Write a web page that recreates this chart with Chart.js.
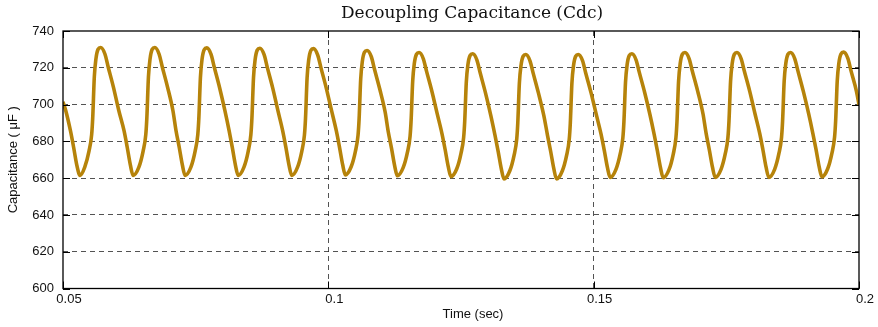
<!DOCTYPE html>
<html>
<head>
<meta charset="utf-8">
<title>Decoupling Capacitance (Cdc)</title>
<script src="https://cdn.jsdelivr.net/npm/chart.js@4.4.1/dist/chart.umd.min.js"></script>
<style>
  html, body { margin: 0; padding: 0; background: #fff; }
  #wrap { width: 878px; height: 327px; position: relative; }
</style>
</head>
<body>
<div id="wrap"><canvas id="cdc-chart"></canvas></div>
<script>
// Cdc trace (time in s, capacitance in uF)
const timeSec = [
  0.0500, 0.0505, 0.0514, 0.0520, 0.0526, 0.0532,
  0.0541, 0.0549, 0.0554, 0.0556, 0.0559, 0.0562, 0.0566, 0.0571, 0.0579, 0.0585, 0.0595, 0.0605, 0.0615, 0.0621, 0.0627, 0.0632,
  0.0643, 0.0651, 0.0656, 0.0658, 0.0661, 0.0664, 0.0668, 0.0673, 0.0681, 0.0687, 0.0697, 0.0707, 0.0713, 0.0719, 0.0725, 0.0730,
  0.0741, 0.0749, 0.0754, 0.0756, 0.0759, 0.0762, 0.0766, 0.0771, 0.0779, 0.0785, 0.0795, 0.0805, 0.0813, 0.0819, 0.0825, 0.0830,
  0.0841, 0.0849, 0.0854, 0.0856, 0.0859, 0.0862, 0.0866, 0.0871, 0.0879, 0.0885, 0.0895, 0.0905, 0.0914, 0.0920, 0.0926, 0.0931,
  0.0942, 0.0950, 0.0955, 0.0957, 0.0960, 0.0963, 0.0967, 0.0972, 0.0980, 0.0986, 0.0996, 0.1006, 0.1015, 0.1021, 0.1027, 0.1032,
  0.1043, 0.1051, 0.1056, 0.1058, 0.1061, 0.1064, 0.1068, 0.1073, 0.1081, 0.1087, 0.1097, 0.1107, 0.1113, 0.1119, 0.1125, 0.1130,
  0.1141, 0.1149, 0.1154, 0.1156, 0.1159, 0.1162, 0.1166, 0.1171, 0.1179, 0.1185, 0.1195, 0.1205, 0.1214, 0.1220, 0.1226, 0.1231,
  0.1242, 0.1250, 0.1255, 0.1257, 0.1260, 0.1263, 0.1267, 0.1272, 0.1280, 0.1286, 0.1296, 0.1306, 0.1314, 0.1320, 0.1326, 0.1331,
  0.1342, 0.1350, 0.1355, 0.1357, 0.1360, 0.1363, 0.1367, 0.1372, 0.1380, 0.1386, 0.1396, 0.1406, 0.1413, 0.1419, 0.1425, 0.1430,
  0.1441, 0.1449, 0.1454, 0.1456, 0.1459, 0.1462, 0.1466, 0.1471, 0.1479, 0.1485, 0.1495, 0.1505, 0.1514, 0.1520, 0.1526, 0.1531,
  0.1542, 0.1550, 0.1555, 0.1557, 0.1560, 0.1563, 0.1567, 0.1572, 0.1580, 0.1586, 0.1596, 0.1606, 0.1614, 0.1620, 0.1626, 0.1631,
  0.1642, 0.1650, 0.1655, 0.1657, 0.1660, 0.1663, 0.1667, 0.1672, 0.1680, 0.1686, 0.1696, 0.1706, 0.1712, 0.1718, 0.1724, 0.1729,
  0.1740, 0.1748, 0.1753, 0.1755, 0.1758, 0.1761, 0.1765, 0.1770, 0.1778, 0.1784, 0.1794, 0.1804, 0.1813, 0.1819, 0.1825, 0.1830,
  0.1841, 0.1849, 0.1854, 0.1856, 0.1859, 0.1862, 0.1866, 0.1871, 0.1879, 0.1885, 0.1895, 0.1905, 0.1913, 0.1919, 0.1925, 0.1930,
  0.1941, 0.1949, 0.1954, 0.1956, 0.1959, 0.1962, 0.1966, 0.1971, 0.1979, 0.1985, 0.1995, 0.2000
];

const cdc = [
  701.5, 696.9, 685.8, 676.8, 667.1, 661.5,
  666.0, 674.7, 683.7, 692.8, 715.0, 724.7, 730.0, 731.0, 727.5, 720.6, 709.5, 696.9, 685.8, 676.8, 667.1, 661.5,
  666.0, 674.7, 683.7, 692.8, 715.0, 724.7, 730.0, 731.0, 727.5, 720.6, 709.5, 696.9, 685.8, 676.8, 667.1, 661.5,
  666.0, 674.7, 683.7, 692.7, 714.9, 724.6, 729.8, 730.8, 727.3, 720.4, 709.3, 696.8, 685.8, 676.7, 667.0, 661.5,
  666.0, 674.6, 683.6, 692.6, 714.7, 724.4, 729.6, 730.6, 727.1, 720.2, 709.2, 696.7, 685.7, 676.7, 667.0, 661.5,
  666.0, 674.6, 683.5, 692.5, 714.6, 724.2, 729.4, 730.4, 726.9, 720.1, 709.1, 696.8, 685.8, 676.9, 667.3, 661.8,
  666.2, 674.6, 683.4, 692.2, 713.9, 723.3, 728.4, 729.4, 726.0, 719.2, 708.3, 696.0, 685.1, 676.3, 666.7, 661.3,
  665.7, 674.0, 682.7, 691.5, 712.9, 722.3, 727.3, 728.3, 724.9, 718.2, 707.4, 695.2, 684.4, 675.7, 666.2, 660.8,
  665.1, 673.5, 682.2, 690.9, 712.2, 721.6, 726.6, 727.6, 724.2, 717.4, 706.5, 694.3, 683.4, 674.6, 665.0, 659.6,
  664.0, 672.4, 681.2, 690.0, 711.7, 721.1, 726.2, 727.2, 723.8, 717.1, 706.2, 694.1, 683.3, 674.5, 665.0, 659.6,
  664.0, 672.4, 681.2, 690.0, 711.7, 721.1, 726.2, 727.2, 723.9, 717.2, 706.5, 694.5, 683.8, 675.1, 665.7, 660.4,
  664.8, 673.2, 681.9, 690.6, 712.1, 721.6, 726.6, 727.6, 724.2, 717.5, 706.7, 694.6, 683.8, 675.0, 665.6, 660.2,
  664.6, 673.1, 682.0, 690.8, 712.6, 722.2, 727.3, 728.3, 724.9, 718.1, 707.3, 695.0, 684.2, 675.3, 665.8, 660.4,
  664.8, 673.3, 682.1, 691.0, 712.7, 722.2, 727.3, 728.3, 724.9, 718.1, 707.3, 695.0, 684.2, 675.3, 665.8, 660.4,
  664.8, 673.3, 682.1, 691.0, 712.7, 722.2, 727.3, 728.3, 724.9, 718.2, 707.3, 695.2, 684.4, 675.6, 666.1, 660.7,
  665.1, 673.6, 682.4, 691.2, 712.9, 722.4, 727.5, 728.5, 725.1, 718.3, 707.5, 700.0
];

const xTicks = [0.05, 0.1, 0.15, 0.2];
const xTickLabels = ['0.05', '0.1', '0.15', '0.2'];
const yTicks = [600, 620, 640, 660, 680, 700, 720, 740];

const TITLE = 'Decoupling Capacitance (Cdc)';
const X_LABEL = 'Time (sec)';
const Y_LABEL = 'Capacitance ( μF )';

const TRACE_COLOR = '#b6830a';
const GRID_COLOR = 'rgba(40,40,40,0.8)';
const SANS = '"Liberation Sans", Arial, sans-serif';

// closed box round the plot area, small inward ticks, title and x label
const boxPlugin = {
  id: 'axesBox',
  afterDatasetsDraw(chart) {
    const { ctx, chartArea: a, scales } = chart;
    ctx.save();
    ctx.strokeStyle = '#000';
    ctx.lineWidth = 1;
    ctx.beginPath();
    yTicks.forEach(v => {
      const y = Math.round(scales.y.getPixelForValue(v)) + 0.5;
      ctx.moveTo(a.left, y); ctx.lineTo(a.left + 7, y);
      ctx.moveTo(a.right, y); ctx.lineTo(a.right - 7, y);
    });
    xTicks.forEach(v => {
      const x = Math.round(scales.x.getPixelForValue(v)) + 0.5;
      ctx.moveTo(x, a.bottom); ctx.lineTo(x, a.bottom - 7);
      ctx.moveTo(x, a.top); ctx.lineTo(x, a.top + 7);
    });
    ctx.stroke();
    ctx.lineWidth = 1.3;
    ctx.strokeRect(a.left, a.top, a.right - a.left, a.bottom - a.top);

    ctx.fillStyle = '#111';
    ctx.textAlign = 'center';
    ctx.textBaseline = 'middle';
    ctx.font = '17px "DejaVu Serif", "Liberation Serif", serif';
    ctx.fillText(TITLE, 472, 14);
    ctx.font = '13px ' + SANS;
    ctx.fillText(X_LABEL, 473, 314);
    ctx.restore();
  }
};

const chart = new Chart(document.getElementById('cdc-chart'), {
  type: 'line',
  data: {
    datasets: [{
      label: 'Cdc',
      data: timeSec.map((t, i) => ({ x: t, y: cdc[i] })),
      borderColor: TRACE_COLOR,
      borderWidth: 3.6,
      pointRadius: 0,
      fill: false,
      cubicInterpolationMode: 'monotone'
    }]
  },
  options: {
    responsive: true,
    maintainAspectRatio: false,
    animation: false,
    layout: { padding: { left: 0, right: 19, top: 31, bottom: 0 } },
    plugins: {
      legend: { display: false },
      tooltip: { enabled: false },
      title: { display: false }
    },
    scales: {
      x: {
        type: 'linear',
        min: 0.05,
        max: 0.2,
        afterBuildTicks: s => { s.ticks = xTicks.map(v => ({ value: v })); },
        afterFit: s => { s.height = 38.5; },
        ticks: {
          autoSkip: false,
          maxRotation: 0,
          padding: 3,
          labelOffset: 6,
          color: '#111',
          font: { family: SANS, size: 13 },
          callback: v => xTickLabels[xTicks.indexOf(v)] ?? ''
        },
        grid: {
          color: ctx => (ctx.tick && (ctx.tick.value === 0.05 || ctx.tick.value === 0.2)) ? 'rgba(0,0,0,0)' : GRID_COLOR,
          lineWidth: 1,
          drawTicks: false
        },
        border: { display: false, dash: [5, 4] }
      },
      y: {
        min: 600,
        max: 740,
        afterBuildTicks: s => { s.ticks = yTicks.map(v => ({ value: v })); },
        afterFit: s => { s.width = 63; },
        ticks: {
          padding: 9,
          color: '#111',
          font: { family: SANS, size: 13 }
        },
        grid: {
          color: ctx => (ctx.tick && (ctx.tick.value === 600 || ctx.tick.value === 740)) ? 'rgba(0,0,0,0)' : GRID_COLOR,
          lineWidth: 1,
          drawTicks: false
        },
        border: { display: false, dash: [5, 4] },
        title: {
          display: true,
          text: Y_LABEL,
          color: '#111',
          font: { family: SANS, size: 13, lineHeight: 1.2 },
          padding: { top: 6, bottom: 0 }
        }
      }
    }
  },
  plugins: [boxPlugin]
});
</script>
</body>
</html>
